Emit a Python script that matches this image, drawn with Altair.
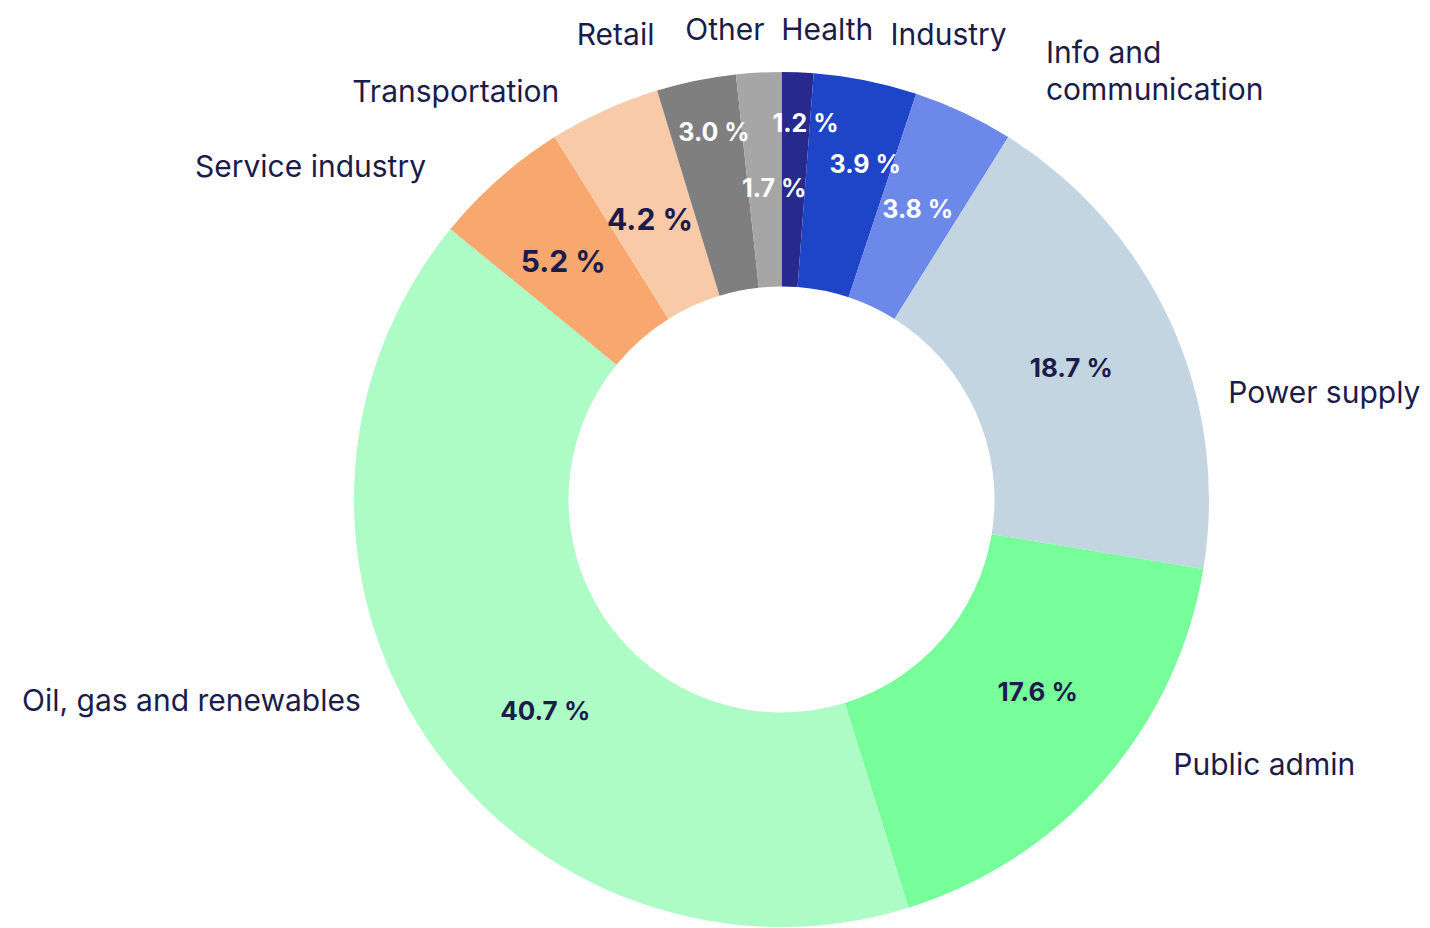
import altair as alt
import pandas as pd

# ---- data ----
sectors = ["Health", "Industry", "Info and communication", "Power supply",
           "Public admin", "Oil, gas and renewables", "Service industry",
           "Transportation", "Retail", "Other"]
shares = [1.2, 3.9, 3.8, 18.7, 17.6, 40.7, 5.2, 4.2, 3.0, 1.7]
outer_text = ["Health", "Industry", "Info and\ncommunication", "Power supply",
              "Public admin", "Oil, gas and renewables", "Service industry",
              "Transportation", "Retail", "Other"]

# ---- styles ----
slice_colors = ["#272a8c", "#1e44c8", "#6c88e8", "#c3d5e0", "#78fd9b",
                "#adfcc5", "#f8a86f", "#f9caa8", "#7f7f7f", "#a6a6a6"]
NAVY = "#1b1c4a"
pct_colors = ["white", "white", "white", NAVY, NAVY, NAVY, NAVY, NAVY, "white", "white"]
pct_sizes = [25, 25, 25, 26, 26, 26, 30, 30, 25, 25]

# ---- label layout (radius in px, angular nudge in degrees from slice middle) ----
pct_radius = [376, 345, 320, 318, 321, 318, 322, 308, 373, 311]
pct_nudge = [1.5, 2.7, 0, 0, -4, -8, -1.3, -0.8, 1.1, 1.7]
lab_radius = [469, 476, 518, 459, 474, 467, 486, 463, 481, 469]
lab_nudge = [-2.2, 1.9, 5.5, 11, -6.8, 8.3, -5.6, -4.2, -3.8, 1.0]
lab_side = ["left", "left", "left", "left", "left",
            "right", "right", "right", "right", "right"]

df = pd.DataFrame({
    "idx": list(range(len(sectors))),
    "sector": sectors,
    "share": shares,
    "outer": outer_text,
    "color": slice_colors,
    "pct_color": pct_colors,
    "pct_size": pct_sizes,
    "pct_r": pct_radius,
    "lab_r": lab_radius,
    "side": lab_side,
})
mid = df["share"].cumsum() - df["share"] / 2
df["pct_pos"] = mid + pd.Series(pct_nudge) / 3.6
df["lab_pos"] = mid + pd.Series(lab_nudge) / 3.6
df["pct_text"] = df["share"].map(lambda v: f"{v:.1f} %")

theta_scale = alt.Scale(domain=[0, 100])

arcs = alt.Chart(df).mark_arc(outerRadius=427.5, innerRadius=213).encode(
    theta=alt.Theta("share:Q", stack=True, scale=theta_scale),
    color=alt.Color("color:N", scale=None),
    order=alt.Order("idx:Q"),
)

pct = alt.Chart(df).mark_text(
    font="Inter", fontWeight="bold", align="center", baseline="middle"
).encode(
    theta=alt.Theta("pct_pos:Q", scale=theta_scale),
    radius=alt.Radius("pct_r:Q", scale=None),
    text="pct_text:N",
    color=alt.Color("pct_color:N", scale=None),
    size=alt.Size("pct_size:Q", scale=None),
)

def outer_layer(side):
    return alt.Chart(df).transform_filter(alt.datum.side == side).mark_text(
        font="Inter", fontSize=30, color=NAVY, align=side, baseline="middle",
        lineBreak="\n", lineHeight=37
    ).encode(
        theta=alt.Theta("lab_pos:Q", scale=theta_scale),
        radius=alt.Radius("lab_r:Q", scale=None),
        text="outer:N",
    )

chart = alt.layer(arcs, pct, outer_layer("left"), outer_layer("right")).properties(
    width=1281, height=857, autosize="none",
    padding={"left": 133, "top": 63, "right": 0, "bottom": 0},
    background="white",
).configure_view(stroke=None)

chart.save("out.html", embed_options={"renderer": "svg", "actions": False})
